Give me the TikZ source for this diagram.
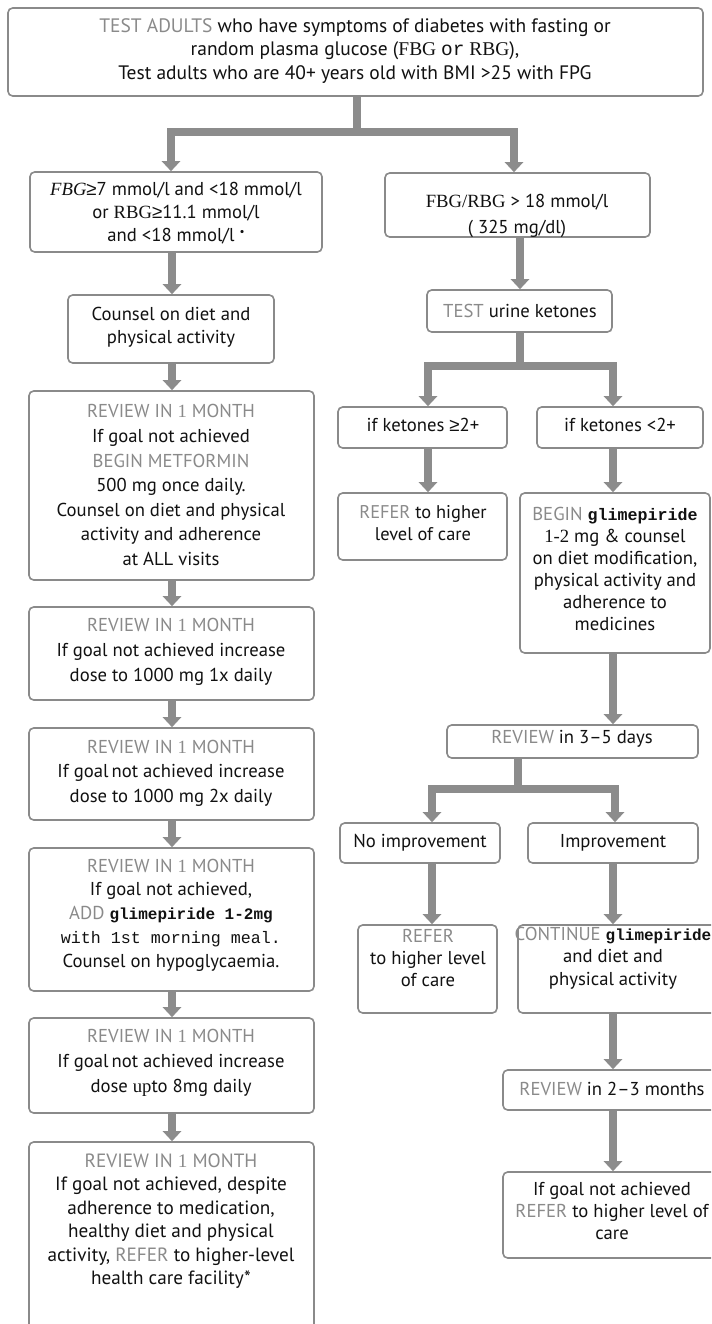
\documentclass[tikz,border=0pt]{standalone}
\usepackage{fontspec}
\setmainfont{PT Sans}
\newfontfamily\serifb{Liberation Serif}
\newfontfamily\monob{Liberation Mono}
\newfontfamily\symb{Liberation Sans}
\usetikzlibrary{arrows.meta,fit}
\definecolor{kwgray}{HTML}{8A8A8A}
\definecolor{edgegray}{HTML}{8A8A8A}
\definecolor{arrowgray}{HTML}{8C8C8C}
\definecolor{ink}{HTML}{111111}
\newcommand{\kw}[1]{{\color{kwgray}#1}}
\newcommand{\one}{{\serifb 1}}
\newcommand{\gesym}{{\symb ≥}}
\newcommand{\glim}[1]{{\monob\bfseries\fontsize{#1}{#1}\selectfont glimepiride}}
\begin{document}
\begin{tikzpicture}[x=0.75pt,y=-0.75pt,
  box/.style={draw=edgegray, line width=1.2pt, rounded corners=3.5pt, fill=white, inner sep=0pt},
  txt/.style={align=center, text=ink, font=\fontsize{14pt}{18pt}\selectfont, inner sep=0pt},
  shaft/.style={draw=arrowgray, line width=6pt},
  flow/.style={shaft, -{Triangle[width=13.5pt,length=7.5pt]}},
]
\clip (0,0) rectangle (711,1324);
\fill[white] (0,0) rectangle (711,1324);

% ---------- boxes ----------
\node[box, fit={(8,8)(703,96)}] (top) {};
\node[box, fit={(30,172)(322,252)}] (L1) {};
\node[box, fit={(385,173)(650,237)}] (R1) {};
\node[box, fit={(68,295)(274,363)}] (counsel) {};
\node[box, fit={(29,391)(314,580)}] (rev1) {};
\node[box, fit={(29,607)(314,700)}] (rev2) {};
\node[box, fit={(29,728)(314,820)}] (rev3) {};
\node[box, fit={(29,848)(314,991)}] (rev4) {};
\node[box, fit={(29,1018)(314,1113)}] (rev5) {};
\node[box, fit={(29,1142)(314,1340)}] (rev6) {};

\node[box, fit={(427,290)(612,332)}] (test) {};
\node[box, fit={(338,407)(507,448)}] (k1) {};
\node[box, fit={(537,407)(703,448)}] (k2) {};
\node[box, fit={(338,493)(507,560)}] (refer1) {};
\node[box, fit={(520,493)(710,653)}] (begin) {};
\node[box, fit={(447,725)(698,758)}] (rev35) {};
\node[box, fit={(340,823)(500,863)}] (noimp) {};
\node[box, fit={(528,823)(698,863)}] (imp) {};
\node[box, fit={(358,925)(497,1013)}] (refer2) {};
\node[box, fit={(518,925)(716,1013)}] (cont) {};
\node[box, fit={(503,1070)(716,1110)}] (rev23) {};
\node[box, fit={(503,1172)(716,1258)}] (last) {};

% ---------- texts ----------
\node[txt, font=\fontsize{14.6pt}{17.3pt}\selectfont] (ttop) at (355,51) {\kw{TEST ADULTS} who have symptoms of diabetes with fasting or\\ random plasma glucose ({\serifb FBG\ }{\monob or}{\serifb\ RBG}),\\ Test adults who are 40+ years old with BMI >25 with FPG};
\node[txt, font=\fontsize{14pt}{17.3pt}\selectfont] (tL1) at (176,213) {{\serifb\itshape FBG}\gesym7 mmol/l and <18 mmol/l\\ or {\serifb RBG}\gesym11.1 mmol/l\\ and <18 mmol/l \raisebox{0.6ex}{\scalebox{0.6}{•}}};
\node[txt, font=\fontsize{14pt}{19pt}\selectfont] (tR1) at (517,216) {{\serifb FBG/RBG} > 18 mmol/l\\( 325 mg/dl)};
\node[txt, font=\fontsize{14pt}{17.3pt}\selectfont] (tcounsel) at (171,327) {Counsel on diet and\\ physical activity};
\node[txt, font=\fontsize{14pt}{18.4pt}\selectfont] (trev1) at (171,485) {\kw{REVIEW IN \one\ MONTH}\\ If goal not achieved\\ \kw{BEGIN METFORMIN}\\ 500 mg once daily.\\ Counsel on diet and physical\\ activity and adherence\\ at ALL visits};
\node[txt, font=\fontsize{14pt}{18.6pt}\selectfont] (trev2) at (171,652) {\kw{REVIEW IN \one\ MONTH}\\ If goal not achieved increase\\ dose to 1000 mg 1x daily};
\node[txt, font=\fontsize{14pt}{18.4pt}\selectfont] (trev3) at (171,773) {\kw{REVIEW IN \one\ MONTH}\\ If goal\,not achieved increase\\ dose to 1000 mg 2x daily};
\node[txt, font=\fontsize{14pt}{17.8pt}\selectfont] (trev4) at (171,915) {\kw{REVIEW IN \one\ MONTH}\\ If goal not achieved,\\ \kw{ADD} {\monob\bfseries\fontsize{12pt}{12pt}\selectfont glimepiride 1-2mg}\\ {\monob\fontsize{12.5pt}{12.5pt}\selectfont with 1st morning meal.}\\ Counsel on hypoglycaemia.};
\node[txt, font=\fontsize{14pt}{18.6pt}\selectfont] (trev5) at (171,1063) {\kw{REVIEW IN \one\ MONTH}\\ If goal\,not achieved increase\\ dose {\serifb up}to 8mg daily};
\node[txt, font=\fontsize{14.4pt}{17.6pt}\selectfont] (trev6) at (171,1221) {\kw{REVIEW IN \one\ MONTH}\\ If goal not achieved, despite\\ adherence to medication,\\ healthy diet and physical\\ activity, \kw{REFER} to higher-level\\ health care facility*};

\node[txt] (ttest) at (520,311) {\kw{TEST} urine ketones};
\node[txt] (tk1) at (423,425) {if ketones \gesym2+};
\node[txt] (tk2) at (620,425) {if ketones <2+};
\node[txt, font=\fontsize{13.8pt}{16.5pt}\selectfont] (trefer1) at (423,523) {\kw{REFER} to higher\\ level of care};
\node[txt, font=\fontsize{14pt}{16.6pt}\selectfont] (tbegin) at (615,569) {\kw{BEGIN} \glim{12.5pt}\\ {\serifb 1-2} mg \& counsel\\ on diet modification,\\ physical activity and\\ adherence to\\ medicines};
\node[txt] (trev35) at (572,739) {\kw{REVIEW} in 3–5 days};
\node[txt] (tnoimp) at (420,843) {No improvement};
\node[txt] (timp) at (613,843) {Improvement};
\node[txt, font=\fontsize{14pt}{16.8pt}\selectfont] (trefer2) at (428,958) {\kw{REFER}\\ to higher level\\ of care};
\node[txt, font=\fontsize{14pt}{16.8pt}\selectfont] (tcont) at (613,958) {\kw{CONTINUE} \glim{12pt}\\ and diet and\\ physical activity};
\node[txt] (trev23) at (612,1089) {\kw{REVIEW} in 2–3 months};
\node[txt, font=\fontsize{14pt}{16.8pt}\selectfont] (tlast) at (612,1211) {If goal not achieved\\ \kw{REFER} to higher level of\\ care};

% ---------- connectors ----------
\coordinate (cl) at (172,0);
\coordinate (s1) at (357,132);
\coordinate (s1l) at (171,132);
\coordinate (s1r) at (514,132);
\draw[shaft] (top.south -| s1) -- (s1);
\draw[shaft, line cap=rect] (s1l) -- (s1r);
\draw[flow] (s1l) -- (L1.north -| s1l);
\draw[flow] (s1r) -- (R1.north -| s1r);

\draw[flow] (L1.south -| cl) -- (counsel.north -| cl);
\draw[flow] (counsel.south -| cl) -- (rev1.north -| cl);
\draw[flow] (rev1.south -| cl) -- (rev2.north -| cl);
\draw[flow] (rev2.south -| cl) -- (rev3.north -| cl);
\draw[flow] (rev3.south -| cl) -- (rev4.north -| cl);
\draw[flow] (rev4.south -| cl) -- (rev5.north -| cl);
\draw[flow] (rev5.south -| cl) -- (rev6.north -| cl);

\coordinate (cr1) at (520,0);
\draw[flow] (R1.south -| cr1) -- (test.north -| cr1);
\coordinate (s2) at (520,366);
\coordinate (s2l) at (428,366);
\coordinate (s2r) at (613,366);
\draw[shaft] (test.south -| s2) -- (s2);
\draw[shaft, line cap=rect] (s2l) -- (s2r);
\draw[flow] (s2l) -- (k1.north -| s2l);
\draw[flow] (s2r) -- (k2.north -| s2r);
\draw[flow] (k1.south -| s2l) -- (refer1.north -| s2l);
\draw[flow] (k2.south -| s2r) -- (begin.north -| s2r);
\draw[flow] (begin.south -| s2r) -- (rev35.north -| s2r);

\coordinate (s3) at (518,789);
\coordinate (s3l) at (432,789);
\coordinate (s3r) at (615,789);
\draw[shaft] (rev35.south -| s3) -- (s3);
\draw[shaft, line cap=rect] (s3l) -- (s3r);
\draw[flow] (s3l) -- (noimp.north -| s3l);
\draw[flow] (s3r) -- (imp.north -| s3r);
\draw[flow] (noimp.south -| s3l) -- (refer2.north -| s3l);
\coordinate (cr2) at (613,0);
\draw[flow] (imp.south -| cr2) -- (cont.north -| cr2);
\draw[flow] (cont.south -| cr2) -- (rev23.north -| cr2);
\draw[flow] (rev23.south -| cr2) -- (last.north -| cr2);
\end{tikzpicture}
\end{document}
